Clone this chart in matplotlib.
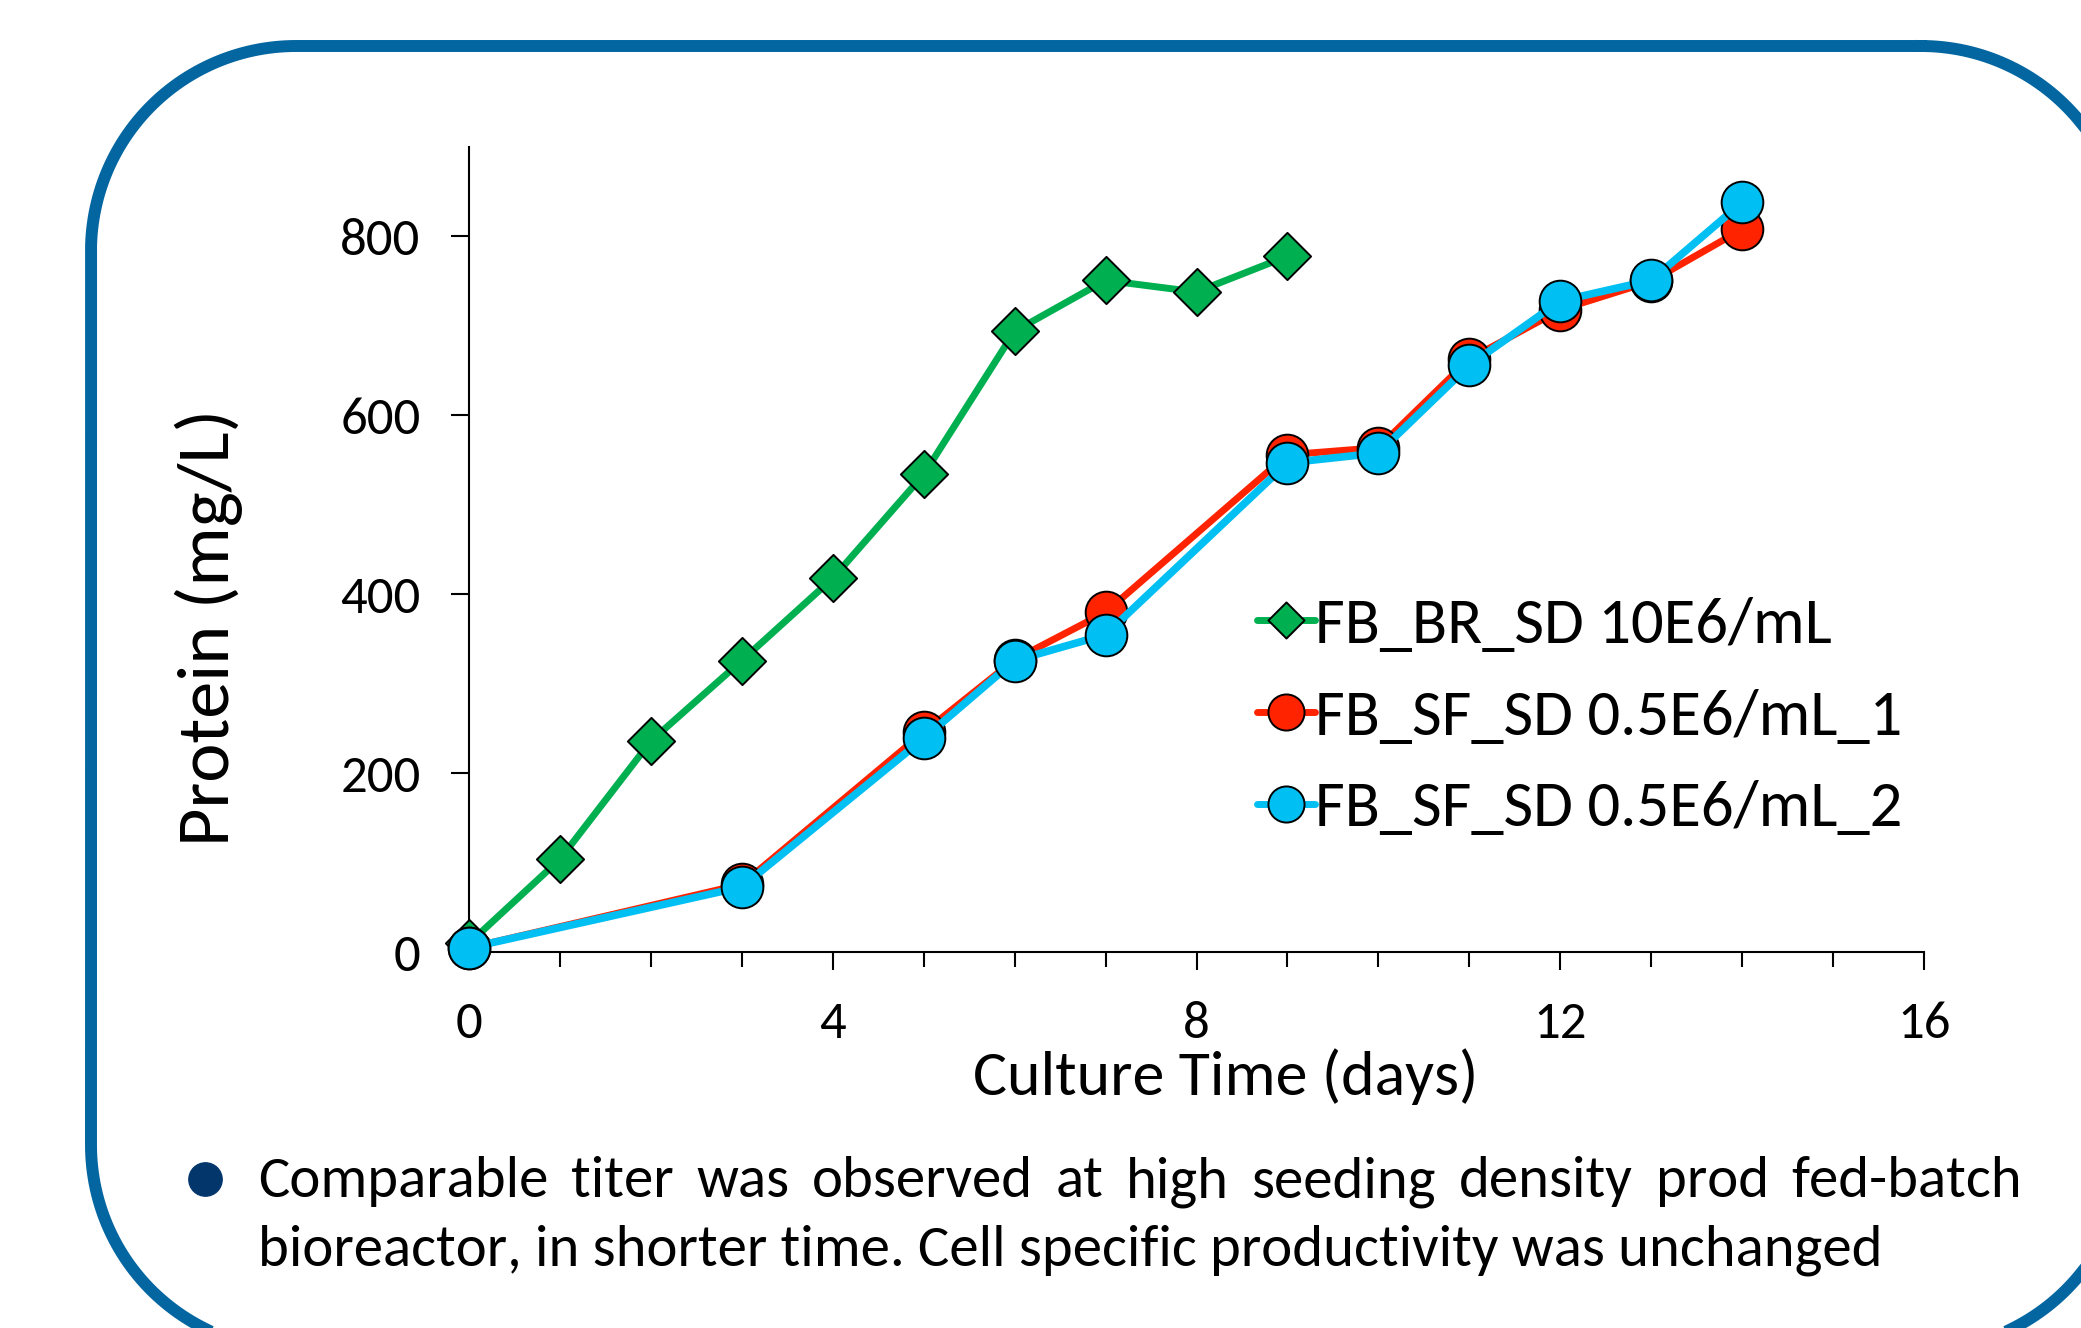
import numpy as np
import matplotlib
matplotlib.use("Agg")
import matplotlib.pyplot as plt
from matplotlib import font_manager
from matplotlib.path import Path
from matplotlib.lines import Line2D

# culture day vs protein titer (mg/L)
days_br = [0, 1, 2, 3, 4, 5, 6, 7, 8, 9]
titer_br = [10, 104, 236, 326, 418, 534, 694, 751, 738, 778]

days_sf = [0, 3, 5, 6, 7, 9, 10, 11, 12, 13, 14]
titer_sf1 = [5, 76, 246, 327, 380, 556, 564, 663, 718, 750, 808]
titer_sf2 = [5, 73, 239, 326, 355, 547, 558, 656, 728, 751, 838]

labels = ["FB_BR_SD 10E6/mL", "FB_SF_SD 0.5E6/mL_1", "FB_SF_SD 0.5E6/mL_2"]
colors = ["#00b050", "#ff2300", "#00bff2"]

x_ticks = [0, 4, 8, 12, 16]
y_ticks = [0, 200, 400, 600, 800]

caption_1 = "Comparable titer was observed at high seeding density prod fed-batch"
caption_2 = "bioreactor, in shorter time. Cell specific productivity was unchanged"

# Calibri look-alike if there is one, otherwise Lato
names = {f.name for f in font_manager.fontManager.ttflist}
if "Carlito" in names:
    font = "Carlito"
    fs_tick, fs_xlab, fs_ylab, fs_leg, fs_cap = 38, 46, 53.5, 46.5, 42.3
else:
    font = "Lato"
    fs_tick, fs_xlab, fs_ylab, fs_leg, fs_cap = 34, 41, 48, 42, 38
plt.rcParams["font.family"] = [font, "DejaVu Sans"]

W, H = 2081, 1328
fig = plt.figure(figsize=(W / 100, H / 100), dpi=100)

# background layer in pixel units (y down): rounded frame, bullet, caption
bg = fig.add_axes([0, 0, 1, 1])
bg.set_xlim(0, W)
bg.set_ylim(H, 0)
bg.axis("off")


def rounded_rect(x0, y0, x1, y1, r, n=60):
    xs, ys = [], []
    corners = [(x1 - r, y0 + r, -90), (x1 - r, y1 - r, 0),
               (x0 + r, y1 - r, 90), (x0 + r, y0 + r, 180)]
    for cx, cy, a in corners:
        t = np.radians(np.linspace(a, a + 90, n))
        xs.extend(cx + r * np.cos(t))
        ys.extend(cy + r * np.sin(t))
    xs.append(xs[0])
    ys.append(ys[0])
    return xs, ys


fx, fy = rounded_rect(91, 46, 2126, 1350, 205)
bg.plot(fx, fy, color="#0366a1", lw=8.6, solid_joinstyle="round")

ax = fig.add_axes([469 / W, 1 - 952.3 / H, (1924 - 469) / W, (952.3 - 147) / H])
ax.set_facecolor("none")

diamond = Path([(0, 1), (1, 0), (0, -1), (-1, 0), (0, 1)], closed=True)

ax.plot(days_br, titer_br, color=colors[0], lw=5, marker=diamond, ms=34,
        mfc=colors[0], mec="black", mew=1.4, clip_on=False, zorder=3)
ax.plot(days_sf, titer_sf1, color=colors[1], lw=5, marker="o", ms=30,
        mfc=colors[1], mec="black", mew=1.4, clip_on=False, zorder=4)
ax.plot(days_sf, titer_sf2, color=colors[2], lw=5.5, marker="o", ms=30,
        mfc=colors[2], mec="black", mew=1.4, clip_on=False, zorder=5)

ax.set_xlim(0, 16)
ax.set_ylim(0, 900)
ax.set_xticks(x_ticks)
ax.set_xticks(range(17), minor=True)
ax.set_yticks(y_ticks)
for s in ["top", "right"]:
    ax.spines[s].set_visible(False)
for s in ["left", "bottom"]:
    ax.spines[s].set_linewidth(1.5)
ax.tick_params(axis="both", which="major", direction="out", length=13,
               width=1.5, labelsize=fs_tick, pad=22)
ax.tick_params(axis="x", which="minor", direction="out", length=11, width=1.5)

ax.set_xlabel("Culture Time (days)", fontsize=fs_xlab)
ax.xaxis.set_label_coords(0.520, -0.119)
ax.set_ylabel("Protein (mg/L)", fontsize=fs_ylab)
ax.yaxis.set_label_coords(-0.155, 0.404)

handles = []
for i, c in enumerate(colors):
    m = diamond if i == 0 else "o"
    handles.append(Line2D([], [], color=c, lw=5, marker=m, ms=26, mfc=c,
                          mec="black", mew=1.4, solid_capstyle="round"))
fig.legend(handles, labels, loc="center left",
           bbox_to_anchor=(1257 / W, 1 - 717 / H), frameon=False,
           fontsize=fs_leg, handlelength=0.9, handletextpad=0.0,
           labelspacing=0.54, borderpad=0, borderaxespad=0)

# bullet + justified caption
bg.plot([205], [1179], "o", ms=24, color="#03366b")
fig.canvas.draw()
r = fig.canvas.get_renderer()
words = [bg.text(0, 1197, w, fontsize=fs_cap, va="baseline")
         for w in caption_1.split()]
widths = [t.get_window_extent(r).width for t in words]
gap = (2022 - 258 - sum(widths)) / (len(words) - 1)
x = 258
for t, w in zip(words, widths):
    t.set_x(x)
    x += w + gap
bg.text(258, 1265, caption_2, fontsize=fs_cap, va="baseline")

fig.savefig("out.png", dpi=100)
